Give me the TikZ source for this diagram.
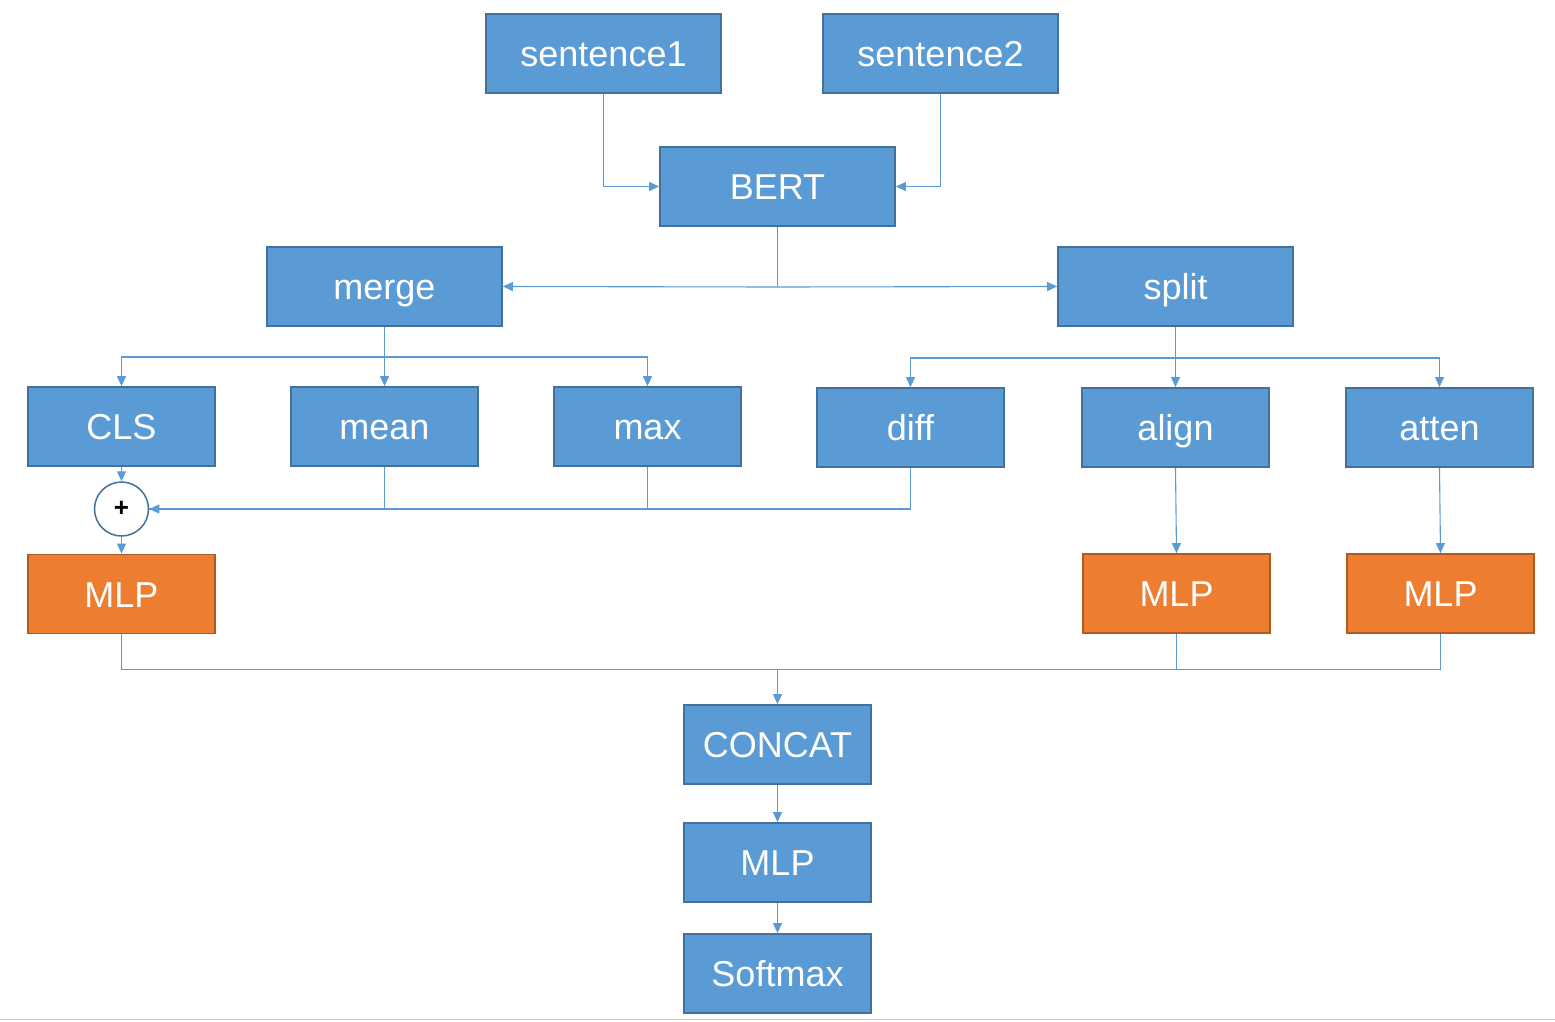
\documentclass[tikz,border=0pt]{standalone}
\usepackage{fontspec}
\setmainfont{Liberation Sans}
\usetikzlibrary{arrows.meta}
\definecolor{bfill}{HTML}{5B9BD5}
\definecolor{bline}{HTML}{41719C}
\definecolor{ofill}{HTML}{ED7D31}
\definecolor{oline}{HTML}{AE5A21}
\definecolor{conn}{HTML}{5B9BD5}
\tikzset{
  bbox/.style={draw=bline, fill=bfill, line width=1.8pt, text=white, inner sep=0pt,
    font=\fontsize{36}{40}\selectfont, text height=26pt, text depth=0pt},
  wide/.style={bbox, minimum width=235pt, minimum height=79pt},
  narrow/.style={bbox, minimum width=187pt, minimum height=79pt},
  obox/.style={narrow, draw=oline, fill=ofill},
  plusc/.style={circle, draw=bline, fill=white, line width=1.5pt, minimum size=54pt, inner sep=0pt,
    font=\fontsize{26}{28}\selectfont\bfseries},
  con/.style={draw=conn, line width=1.1pt},
  arr/.style={con, -{Triangle[length=10pt, width=9pt]}},
}
\begin{document}
\begin{tikzpicture}[x=1pt,y=-1pt]
\useasboundingbox (0,0) rectangle (1555,1021);
\fill[white] (0,0) rectangle (1555,1021);
\draw[line width=1.5pt, draw=black!22] (0,1019.5) -- (1555,1019.5);

\node[wide] (s1) at (603.5,53.5) {sentence1};
\node[wide] (s2) at (940.5,53.5) {sentence2};
\node[wide] (bert) at (777.5,186.5) {BERT};
\node[wide] (merge) at (384.5,286.5) {merge};
\node[wide] (split) at (1175.5,286.5) {split};

\node[narrow] (cls) at (121.5,426.5) {CLS};
\node[narrow] (mean) at (384.5,426.5) {mean};
\node[narrow] (max) at (647.5,426.5) {max};
\node[narrow] (diff) at (910.5,427.5) {diff};
\node[narrow] (align) at (1175.5,427.5) {align};
\node[narrow] (atten) at (1439.5,427.5) {atten};

\node[plusc] (plus) at (121.5,509) {+};

\node[obox] (mlp1) at (121.5,594) {MLP};
\node[obox] (mlp2) at (1176.5,593.5) {MLP};
\node[obox] (mlp3) at (1440.5,593.5) {MLP};

\node[narrow] (concat) at (777.5,744.5) {CONCAT};
\node[narrow] (mlp4) at (777.5,862.5) {MLP};
\node[narrow] (soft) at (777.5,973.5) {Softmax};

% top
\draw[arr] (s1.south) |- (bert.west);
\draw[arr] (s2.south) |- (bert.east);
\coordinate (bj) at (777.5,287);
\draw[con] (bert.south) -- (bj);
\draw[arr] (bj) -- (merge.east);
\draw[arr] (bj) -- (split.west);

% merge branches
\coordinate (mj) at (384.5,357);
\draw[con] (merge.south) -- (mj);
\draw[arr] (mj) -| (cls.north);
\draw[arr] (mj) -- (mean.north);
\draw[arr] (mj) -| (max.north);

% split branches
\coordinate (sj) at (1175.5,358);
\draw[con] (split.south) -- (sj);
\draw[arr] (sj) -| (diff.north);
\draw[arr] (sj) -- (align.north);
\draw[arr] (sj) -| (atten.north);

% to plus
\draw[arr] (cls.south) -- (plus.north);
\draw[con] (mean.south) |- (plus.east);
\draw[con] (max.south) |- (plus.east);
\draw[arr] (diff.south) |- (plus.east);
\draw[arr] (plus.south) -- (mlp1.north);

\draw[arr] (align.south) -- (mlp2.north);
\draw[arr] (atten.south) -- (mlp3.north);

% to concat
\coordinate (cj) at (777.5,669.5);
\draw[con] (mlp1.south) |- (cj);
\draw[con] (mlp2.south) |- (cj);
\draw[con] (mlp3.south) |- (cj);
\draw[arr] (cj) -- (concat.north);

\draw[arr] (concat.south) -- (mlp4.north);
\draw[arr] (mlp4.south) -- (soft.north);
\end{tikzpicture}
\end{document}
